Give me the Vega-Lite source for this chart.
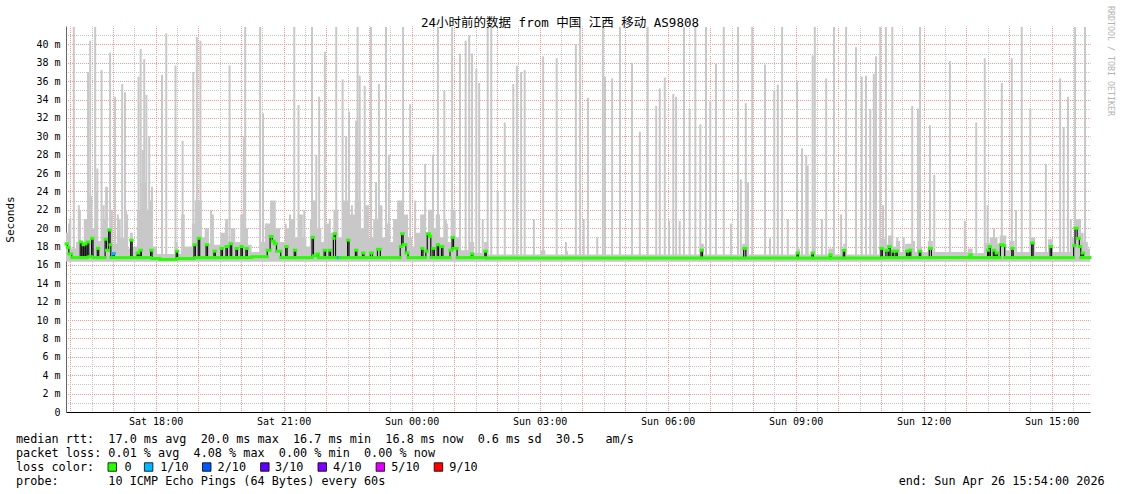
{
"$schema": "https://vega.github.io/schema/vega-lite/v6.json",
"width": 1024,
"height": 386,
"autosize": {"type": "none"},
"padding": {"left": 66, "top": 26, "right": 31, "bottom": 82},
"background": "white",
"config": {"view": {"stroke": null}, "axis": {"labelFont": "DejaVu Sans Mono", "titleFont": "DejaVu Sans Mono"}},
"title": {"text": "24小时前的数据 from 中国 江西 移动 AS9808", "font": "DejaVu Sans Mono, Noto Sans CJK SC", "fontSize": 12.5, "fontWeight": "normal", "color": "#000", "anchor": "middle", "frame": "group", "dx": -18, "dy": 33, "offset": 0, "baseline": "alphabetic"},
"datasets": {
"median": [
{"t":954,"m":18.3},{"t":956,"m":17.9},{"t":958,"m":17.2},{"t":962,"m":16.8},{"t":974,"m":18.5},{"t":976,"m":16.8},{"t":978,"m":18.2},{"t":979,"m":16.8},{"t":981,"m":18.3},{"t":982,"m":16.8},{"t":984,"m":18.5},{"t":986,"m":16.9},{"t":990,"m":18.9},{"t":992,"m":16.8},{"t":998,"m":17.8},{"t":1000,"m":16.8},{"t":1009,"m":18.8},{"t":1011,"m":17.6},{"t":1014,"m":19.8},{"t":1016,"m":18.2},{"t":1017,"m":16.8},{"t":1020,"m":17.25,"l":1},{"t":1022,"m":16.8},{"t":1045,"m":18.7},{"t":1047,"m":16.8},{"t":1054,"m":17.3},{"t":1056,"m":16.8},{"t":1058,"m":17.6},{"t":1060,"m":16.8},{"t":1073,"m":17.6},{"t":1075,"m":16.7},{"t":1086,"m":16.6},{"t":1109,"m":17.5},{"t":1111,"m":16.7},{"t":1134,"m":18.2},{"t":1136,"m":16.8},{"t":1140,"m":18.9},{"t":1142,"m":16.8},{"t":1151,"m":18.2},{"t":1153,"m":16.8},{"t":1162,"m":17.5},{"t":1164,"m":16.8},{"t":1172,"m":17.8},{"t":1174,"m":16.8},{"t":1179,"m":18.0},{"t":1181,"m":16.8},{"t":1185,"m":18.3},{"t":1187,"m":16.8},{"t":1193,"m":17.8},{"t":1195,"m":16.8},{"t":1200,"m":18.0},{"t":1202,"m":16.8},{"t":1207,"m":17.8},{"t":1209,"m":16.8},{"t":1215,"m":16.9},{"t":1237,"m":17.6},{"t":1241,"m":19.1},{"t":1244,"m":18.6},{"t":1247,"m":18.3},{"t":1250,"m":17.5},{"t":1256,"m":16.8},{"t":1263,"m":18.0},{"t":1265,"m":16.8},{"t":1275,"m":17.6},{"t":1277,"m":16.8},{"t":1300,"m":19.0},{"t":1302,"m":17.0},{"t":1307,"m":17.2},{"t":1309,"m":16.8},{"t":1317,"m":17.6},{"t":1319,"m":16.8},{"t":1324,"m":17.6},{"t":1326,"m":16.8},{"t":1330,"m":18.9},{"t":1331,"m":19.4},{"t":1333,"m":16.8},{"t":1337,"m":16.8,"l":1},{"t":1339,"m":16.8},{"t":1350,"m":18.7},{"t":1352,"m":16.8},{"t":1361,"m":17.6},{"t":1363,"m":16.8},{"t":1371,"m":17.3},{"t":1373,"m":16.8},{"t":1382,"m":17.3},{"t":1385,"m":16.8},{"t":1392,"m":17.7},{"t":1396,"m":16.8},{"t":1424,"m":18.0},{"t":1426,"m":19.4},{"t":1428,"m":18.2},{"t":1432,"m":17.3},{"t":1435,"m":16.8},{"t":1454,"m":17.8},{"t":1456,"m":16.8},{"t":1460,"m":17.5},{"t":1462,"m":19.4},{"t":1465,"m":19.1},{"t":1467,"m":16.8},{"t":1470,"m":17.8},{"t":1472,"m":16.8},{"t":1476,"m":18.2},{"t":1478,"m":16.8},{"t":1482,"m":18.0},{"t":1484,"m":16.8},{"t":1494,"m":17.6},{"t":1497,"m":19.0},{"t":1499,"m":17.8},{"t":1504,"m":16.8},{"t":1524,"m":17.2},{"t":1526,"m":16.8},{"t":1543,"m":17.5},{"t":1545,"m":16.75},{"t":1847,"m":17.6},{"t":1849,"m":16.75},{"t":1907,"m":17.8},{"t":1910,"m":16.75},{"t":1982,"m":17.3},{"t":1984,"m":16.75},{"t":2003,"m":17.3},{"t":2005,"m":16.75},{"t":2028,"m":17.1},{"t":2030,"m":16.75},{"t":2047,"m":17.6},{"t":2049,"m":16.75},{"t":2100,"m":17.8},{"t":2102,"m":16.8},{"t":2107,"m":17.6},{"t":2110,"m":16.8},{"t":2111,"m":18.0},{"t":2113,"m":16.8},{"t":2116,"m":17.5},{"t":2118,"m":16.8},{"t":2121,"m":17.5},{"t":2123,"m":16.8},{"t":2136,"m":17.5},{"t":2138,"m":16.8},{"t":2140,"m":17.6},{"t":2142,"m":16.8},{"t":2154,"m":17.5},{"t":2156,"m":16.8},{"t":2168,"m":17.8},{"t":2171,"m":16.8},{"t":2225,"m":17.1},{"t":2227,"m":16.8},{"t":2250,"m":17.6},{"t":2251,"m":16.8},{"t":2252,"m":18.0},{"t":2254,"m":16.8},{"t":2258,"m":17.6},{"t":2260,"m":16.8},{"t":2262,"m":17.3},{"t":2264,"m":16.8},{"t":2268,"m":18.2},{"t":2271,"m":18.1},{"t":2274,"m":16.8},{"t":2284,"m":17.8},{"t":2286,"m":16.8},{"t":2312,"m":18.4},{"t":2314,"m":16.8},{"t":2338,"m":18.0},{"t":2340,"m":16.8},{"t":2371,"m":18.1},{"t":2373,"m":20.0},{"t":2376,"m":18.9},{"t":2379,"m":18.0},{"t":2381,"m":16.8},{"t":2383,"m":17.3},{"t":2385,"m":16.8},{"t":2394,"m":16.9}
],
"spikes": [
{"t":960,"hi":21.0},{"t":965,"hi":41.9},{"t":972,"hi":22.5},{"t":985,"hi":37.0},{"t":988,"hi":40.4},{"t":995,"hi":41.9},{"t":998,"hi":26.5},{"t":1004,"hi":37.2},{"t":1007,"hi":22.5},{"t":1016,"hi":39.1},{"t":1023,"hi":34.3},{"t":1027,"hi":21.5},{"t":1033,"hi":35.7},{"t":1037,"hi":34.8},{"t":1040,"hi":21.5},{"t":1056,"hi":36.5},{"t":1059,"hi":39.5},{"t":1062,"hi":28.5},{"t":1064,"hi":38.4},{"t":1067,"hi":34.5},{"t":1071,"hi":30.0},{"t":1075,"hi":24.5},{"t":1089,"hi":36.7},{"t":1095,"hi":41.2},{"t":1108,"hi":37.7},{"t":1118,"hi":29.5},{"t":1133,"hi":37.0},{"t":1138,"hi":40.8},{"t":1143,"hi":40.4},{"t":1158,"hi":22.0},{"t":1179,"hi":20.5},{"t":1184,"hi":37.7},{"t":1204,"hi":30.0},{"t":1206,"hi":41.9},{"t":1227,"hi":41.9},{"t":1231,"hi":32.5},{"t":1235,"hi":20.5},{"t":1263,"hi":20.5},{"t":1269,"hi":21.5},{"t":1275,"hi":41.9},{"t":1281,"hi":33.4},{"t":1289,"hi":22.0},{"t":1300,"hi":41.9},{"t":1306,"hi":28.0},{"t":1310,"hi":34.3},{"t":1318,"hi":39.2},{"t":1325,"hi":21.0},{"t":1334,"hi":41.9},{"t":1343,"hi":36.2},{"t":1348,"hi":30.0},{"t":1352,"hi":32.7},{"t":1356,"hi":22.5},{"t":1362,"hi":31.7},{"t":1364,"hi":41.9},{"t":1367,"hi":36.6},{"t":1374,"hi":35.5},{"t":1383,"hi":41.9},{"t":1390,"hi":25.0},{"t":1394,"hi":35.7},
{"t":1404,"hi":41.9},{"t":1408,"hi":28},{"t":1421,"hi":23},{"t":1428,"hi":41.9},{"t":1438,"hi":33.5},{"t":1445,"hi":23},{"t":1459,"hi":27},{"t":1470,"hi":28},{"t":1477,"hi":41.9},{"t":1486,"hi":35},{"t":1488,"hi":21},{"t":1497,"hi":41.9},{"t":1508,"hi":39},{"t":1516,"hi":40.4},{"t":1521,"hi":41},{"t":1525,"hi":39},{"t":1531,"hi":37.3},{"t":1535,"hi":35.8},{"t":1540,"hi":21},{"t":1547,"hi":41.9},{"t":1552,"hi":41.9},{"t":1561,"hi":24},{"t":1571,"hi":31.5},{"t":1583,"hi":35.7},{"t":1588,"hi":37.7},{"t":1594,"hi":37},{"t":1599,"hi":37.2},{"t":1612,"hi":21},{"t":1625,"hi":38.7},{"t":1644,"hi":38.5},{"t":1657,"hi":18.5},{"t":1671,"hi":40},{"t":1677,"hi":41.9},{"t":1682,"hi":21},{"t":1688,"hi":34.2},{"t":1701,"hi":19},{"t":1709,"hi":41.9},{"t":1712,"hi":36.5},{"t":1722,"hi":36.3},{"t":1733,"hi":41.9},{"t":1750,"hi":38},{"t":1761,"hi":30.5},{"t":1772,"hi":41.9},{"t":1784,"hi":33.3},{"t":1789,"hi":35.2},{"t":1796,"hi":36.4},{"t":1802,"hi":20.8},{"t":1808,"hi":34.6},{"t":1812,"hi":34.3},{"t":1817,"hi":20.8},{"t":1823,"hi":41.9},{"t":1831,"hi":33},{"t":1839,"hi":41.9},{"t":1846,"hi":31.3},{"t":1854,"hi":41.9},{"t":1860,"hi":33.8},{"t":1868,"hi":37.9},{"t":1879,"hi":41.9},{"t":1889,"hi":20.5},{"t":1899,"hi":41.9},{"t":1903,"hi":25.3},{"t":1910,"hi":33.6},{"t":1913,"hi":25},
{"t":1919,"hi":41.9},{"t":1937,"hi":37.8},{"t":1944,"hi":18.9},{"t":1950,"hi":35},{"t":1955,"hi":35.6},{"t":1961,"hi":41.9},{"t":1969,"hi":21},{"t":1982,"hi":36},{"t":1989,"hi":28.7},{"t":1995,"hi":28},{"t":1997,"hi":26.8},{"t":2004,"hi":38.8},{"t":2007,"hi":41.9},{"t":2017,"hi":21},{"t":2023,"hi":36.3},{"t":2034,"hi":41.9},{"t":2044,"hi":21.5},{"t":2051,"hi":41.9},{"t":2065,"hi":39.7},{"t":2073,"hi":36.5},{"t":2079,"hi":36.6},{"t":2085,"hi":33},{"t":2090,"hi":36.8},{"t":2093,"hi":38.7},{"t":2099,"hi":41.9},{"t":2103,"hi":22.5},{"t":2107,"hi":41.9},{"t":2116,"hi":41.9},{"t":2123,"hi":19},{"t":2132,"hi":19},{"t":2144,"hi":33.3},{"t":2152,"hi":33.0},{"t":2155,"hi":41.9},{"t":2169,"hi":31.2},{"t":2175,"hi":25.8},{"t":2197,"hi":38.2},{"t":2218,"hi":20.8},{"t":2234,"hi":31.5},{"t":2246,"hi":38.5},{"t":2250,"hi":22.5},{"t":2259,"hi":20},{"t":2270,"hi":35.8},{"t":2284,"hi":38.5},{"t":2290,"hi":22},{"t":2298,"hi":41.9},{"t":2310,"hi":33},{"t":2332,"hi":27},{"t":2352,"hi":36.3},{"t":2357,"hi":31},{"t":2363,"hi":34.3},{"t":2367,"hi":21},{"t":2373,"hi":41.9},{"t":2380,"hi":21},{"t":2387,"hi":41.9}
],
"smoke": [
{"t":954,"hi":19.5},{"t":957,"hi":20.5},{"t":961,"hi":17.8},{"t":968,"hi":18.5},{"t":972,"hi":22},{"t":975,"hi":18.5},{"t":979,"hi":21},{"t":984,"hi":23.5},{"t":991,"hi":20},{"t":996,"hi":24},{"t":999,"hi":18.6},{"t":1005,"hi":21},{"t":1009,"hi":24.5},{"t":1013,"hi":20},{"t":1016,"hi":22},{"t":1020,"hi":18.3},{"t":1027,"hi":21},{"t":1031,"hi":19},{"t":1036,"hi":22},{"t":1040,"hi":17.8},{"t":1044,"hi":19.5},{"t":1048,"hi":18.0},{"t":1054,"hi":22},{"t":1060,"hi":25},{"t":1067,"hi":22},{"t":1072,"hi":23},{"t":1076,"hi":18.0},{"t":1082,"hi":17.2},{"t":1107,"hi":18.5},{"t":1111,"hi":17.2},{"t":1116,"hi":21.5},{"t":1121,"hi":18.0},{"t":1131,"hi":20.5},{"t":1135,"hi":23},{"t":1145,"hi":19},{"t":1149,"hi":20},{"t":1155,"hi":18.3},{"t":1159,"hi":21.5},{"t":1162,"hi":18.2},{"t":1171,"hi":19.5},{"t":1178,"hi":21},{"t":1182,"hi":18.6},{"t":1186,"hi":20},{"t":1192,"hi":18.5},{"t":1199,"hi":21.5},{"t":1203,"hi":20.0},{"t":1210,"hi":18.2},{"t":1215,"hi":17.4},{"t":1227,"hi":18.5},{"t":1235,"hi":20.5},{"t":1241,"hi":23},{"t":1249,"hi":20},{"t":1255,"hi":18.5},{"t":1262,"hi":20},{"t":1269,"hi":21},{"t":1275,"hi":19},{"t":1280,"hi":21.5},{"t":1287,"hi":19},{"t":1292,"hi":18.0},{"t":1297,"hi":21},{"t":1301,"hi":23},{"t":1307,"hi":20},{"t":1313,"hi":18.5},{"t":1318,"hi":20.5},{"t":1325,"hi":19.5},{"t":1330,"hi":22},{"t":1337,"hi":19},{"t":1342,"hi":23},{"t":1352,"hi":21.5},{"t":1360,"hi":23},{"t":1369,"hi":20},{"t":1374,"hi":22.5},{"t":1380,"hi":19},{"t":1386,"hi":21},{"t":1393,"hi":22.5},{"t":1399,"hi":19},{"t":1405,"hi":20.5},{"t":1410,"hi":18.5},{"t":1414,"hi":21},{"t":1421,"hi":23},{"t":1429,"hi":21.5},{"t":1435,"hi":19},{"t":1441,"hi":18},{"t":1446,"hi":19.5},{"t":1452,"hi":21.5},{"t":1459,"hi":19.5},{"t":1463,"hi":22},{"t":1469,"hi":20},{"t":1474,"hi":21.5},{"t":1480,"hi":19},{"t":1486,"hi":20.5},{"t":1491,"hi":18.5},{"t":1495,"hi":22},{"t":1502,"hi":19},{"t":1508,"hi":17.6},{"t":1522,"hi":18.5},{"t":1528,"hi":17.3},{"t":1542,"hi":18.5},{"t":1547,"hi":17.15},{"t":1621,"hi":17.6},{"t":1628,"hi":17.15},{"t":1656,"hi":17.5},{"t":1660,"hi":17.15},{"t":1846,"hi":18.3},{"t":1851,"hi":17.15},{"t":1905,"hi":18.3},{"t":1912,"hi":17.15},{"t":1982,"hi":17.8},{"t":1986,"hi":17.15},{"t":2003,"hi":18.0},{"t":2007,"hi":17.15},{"t":2026,"hi":17.8},{"t":2033,"hi":17.15},{"t":2047,"hi":18.3},{"t":2051,"hi":17.15},{"t":2099,"hi":18.8},{"t":2107,"hi":18.2},{"t":2110,"hi":19.2},{"t":2116,"hi":18.0},{"t":2121,"hi":18.6},{"t":2127,"hi":17.4},{"t":2134,"hi":18.3},{"t":2144,"hi":18.6},{"t":2148,"hi":17.4},{"t":2154,"hi":18.0},{"t":2158,"hi":17.4},{"t":2166,"hi":18.6},{"t":2173,"hi":17.4},{"t":2222,"hi":17.8},{"t":2229,"hi":17.3},{"t":2246,"hi":18.4},{"t":2253,"hi":19},{"t":2264,"hi":18.3},{"t":2267,"hi":19.2},{"t":2276,"hi":17.6},{"t":2281,"hi":18.6},{"t":2288,"hi":17.4},{"t":2310,"hi":19},{"t":2317,"hi":17.4},{"t":2335,"hi":18.8},{"t":2342,"hi":17.4},{"t":2368,"hi":19},{"t":2373,"hi":21},{"t":2380,"hi":19.5},{"t":2385,"hi":18.5},{"t":2391,"hi":17.8},{"t":2394,"hi":17.8}
],
"legend": [
{"row":0,"col":0,"text":"median rtt:\u00a0\u00a017.0 ms avg\u00a0\u00a020.0 ms max\u00a0\u00a016.7 ms min\u00a0\u00a016.8 ms now\u00a0\u00a00.6 ms sd\u00a0\u00a030.5\u00a0\u00a0\u00a0am/s"},
{"row":1,"col":0,"text":"packet loss: 0.01 % avg\u00a0\u00a04.08 % max\u00a0\u00a00.00 % min\u00a0\u00a00.00 % now"},
{"row":2,"col":0,"text":"loss color:"},
{"row":2,"col":15.5,"text":"0"},
{"row":2,"col":20.6,"text":"1/10"},
{"row":2,"col":28.8,"text":"2/10"},
{"row":2,"col":37.0,"text":"3/10"},
{"row":2,"col":45.3,"text":"4/10"},
{"row":2,"col":53.6,"text":"5/10"},
{"row":2,"col":61.9,"text":"9/10"},
{"row":3,"col":0,"text":"probe:\u00a0\u00a0\u00a0\u00a0\u00a0\u00a0\u00a010 ICMP Echo Pings (64 Bytes) every 60s"},
{"row":3,"col":126.1,"text":"end: Sun Apr 26 15:54:00 2026"}
],
"boxes": [
{"row":2,"col":13.75,"k":"0"},{"row":2,"col":18.95,"k":"1/10"},{"row":2,"col":27.25,"k":"2/10"},{"row":2,"col":35.55,"k":"3/10"},{"row":2,"col":43.75,"k":"4/10"},{"row":2,"col":52.05,"k":"5/10"},{"row":2,"col":60.35,"k":"9/10"}
],
"credit": [{"row":-27,"col":156.3,"text":"RRDTOOL / TOBI OETIKER"}]
},
"encoding": {"x": {"field": "t", "type": "quantitative", "scale": {"domain": [954, 2394], "nice": false, "zero": false}, "axis": null}},
"layer": [
 {"data": {"name": "smoke"}, "mark": {"type": "area", "interpolate": "step-after", "color": "#c8c8c8"},
  "encoding": {
   "x": {"field": "t", "type": "quantitative", "scale": {"domain": [954, 2394], "nice": false, "zero": false},
    "axis": {"values": [960,990,1020,1050,1080,1110,1140,1170,1200,1230,1260,1290,1320,1350,1380,1410,1440,1470,1500,1530,1560,1590,1620,1650,1680,1710,1740,1770,1800,1830,1860,1890,1920,1950,1980,2010,2040,2070,2100,2130,2160,2190,2220,2250,2280,2310,2340,2370],
     "labelExpr": "datum.value % 180 == 0 ? timeFormat(datetime(2026, 3, 25, 0, datum.value), '%a %H:%M') : ''",
     "grid": true, "gridColor": {"condition": {"test": "datum.value % 60 == 0", "value": "#f09898"}, "value": "#c4c4c4"}, "gridDash": [1, 1], "gridDashOffset": 0.5, "gridWidth": 1,
     "ticks": false, "domainColor": "#000", "domainWidth": 1, "labelFontSize": 10, "labelColor": "#000", "labelPadding": 4, "labelOverlap": false, "labelFlush": false, "title": null, "orient": "bottom"}},
   "y": {"field": "hi", "type": "quantitative", "scale": {"domain": [0, 42], "nice": false, "zero": false},
    "axis": {"values": [0,1,2,3,4,5,6,7,8,9,10,11,12,13,14,15,16,17,18,19,20,21,22,23,24,25,26,27,28,29,30,31,32,33,34,35,36,37,38,39,40,41],
     "labelExpr": "datum.value % 2 == 0 ? (datum.value == 0 ? '0' : datum.value + ' m') : ''",
     "grid": true, "gridColor": {"condition": {"test": "datum.value % 2 == 0", "value": "#f09898"}, "value": "#c4c4c4"}, "gridDash": [1, 1], "gridDashOffset": 0.5, "gridWidth": 1,
     "ticks": false, "domainColor": "#666", "labelFontSize": 10, "labelColor": "#000", "labelPadding": 6, "labelOverlap": false, "labelFlush": false, "orient": "left",
     "title": "Seconds", "titleFontSize": 11, "titleFontWeight": "normal", "titleColor": "#000", "titleX": -56, "titleY": 193, "titleAngle": -90, "titleAlign": "center", "titleBaseline": "middle"}},
   "y2": {"datum": 16.35}}},
 {"data": {"name": "spikes"}, "mark": {"type": "rule", "color": "#c8c8c8", "strokeWidth": 2},
  "encoding": {"y": {"field": "hi", "type": "quantitative", "scale": {"domain": [0, 42], "nice": false, "zero": false}, "axis": null}, "y2": {"datum": 16.5}}},
 {"data": {"name": "median"}, "mark": {"type": "line", "interpolate": "step-after", "color": "#111", "strokeWidth": 1.2},
  "encoding": {"y": {"field": "m", "type": "quantitative", "scale": {"domain": [0, 42], "nice": false, "zero": false}, "axis": null}}},
 {"data": {"name": "median"},
  "transform": [{"window": [{"op": "lead", "field": "t", "as": "t2"}], "sort": [{"field": "t"}]}, {"filter": "datum.t2 != null"}],
  "mark": {"type": "rule", "strokeWidth": 3, "strokeCap": "square"},
  "encoding": {"x2": {"field": "t2"}, "y": {"field": "m", "type": "quantitative", "scale": {"domain": [0, 42], "nice": false, "zero": false}, "axis": null},
   "color": {"condition": {"test": "datum.l == 1", "value": "#00b8ff"}, "value": "#26ff00"}}},
 {"data": {"values": [{}]}, "mark": {"type": "rule", "color": "#666"},
  "encoding": {"x": {"datum": 954, "type": "quantitative", "scale": {"domain": [954, 2394], "nice": false, "zero": false}, "axis": null}, "y": {"datum": -0.3, "type": "quantitative", "scale": {"domain": [0, 42], "nice": false, "zero": false}, "axis": null}, "y2": {"datum": 42.45}}},
 {"data": {"values": [{}]}, "mark": {"type": "rule", "color": "#000"},
  "encoding": {"x": {"datum": 951, "type": "quantitative", "scale": {"domain": [954, 2394], "nice": false, "zero": false}, "axis": null}, "x2": {"datum": 2399}, "y": {"datum": 0, "type": "quantitative", "scale": {"domain": [0, 42], "nice": false, "zero": false}, "axis": null}}},
 {"data": {"values": [{}]}, "mark": {"type": "point", "shape": "triangle-up", "filled": true, "size": 22, "color": "#8b1a1a", "opacity": 1},
  "encoding": {"x": {"datum": 954, "type": "quantitative", "scale": {"domain": [954, 2394], "nice": false, "zero": false}, "axis": null}, "y": {"datum": 42.4, "type": "quantitative", "scale": {"domain": [0, 42], "nice": false, "zero": false}, "axis": null}}},
 {"data": {"values": [{}]}, "mark": {"type": "point", "shape": "triangle-right", "filled": true, "size": 22, "color": "#8b1a1a", "opacity": 1},
  "encoding": {"x": {"datum": 2401, "type": "quantitative", "scale": {"domain": [954, 2394], "nice": false, "zero": false}, "axis": null}, "y": {"datum": 0, "type": "quantitative", "scale": {"domain": [0, 42], "nice": false, "zero": false}, "axis": null}}},
 {"data": {"name": "legend"}, "mark": {"type": "text", "align": "left", "baseline": "middle", "font": "DejaVu Sans Mono", "fontSize": 11.8, "color": "#000"},
  "encoding": {
   "x": {"field": "col", "type": "quantitative", "scale": {"domain": [7.143, 153.43], "nice": false, "zero": false}, "axis": null},
   "y": {"field": "row", "type": "quantitative", "scale": {"domain": [-29.5, -1.93], "nice": false, "zero": false, "reverse": true}, "axis": null},
   "text": {"field": "text"}}},
 {"data": {"name": "boxes"}, "mark": {"type": "point", "shape": "square", "filled": true, "size": 72, "stroke": "#000", "strokeWidth": 0.8, "opacity": 1},
  "encoding": {
   "x": {"field": "col", "type": "quantitative", "scale": {"domain": [7.143, 153.43], "nice": false, "zero": false}, "axis": null},
   "y": {"field": "row", "type": "quantitative", "scale": {"domain": [-29.5, -1.93], "nice": false, "zero": false, "reverse": true}, "axis": null},
   "color": {"field": "k", "type": "nominal", "scale": {"domain": ["0","1/10","2/10","3/10","4/10","5/10","9/10"], "range": ["#26ff00","#00b8ff","#0059ff","#5e00ff","#7e00ff","#dd00ff","#ff0000"]}, "legend": null}}},
 {"data": {"name": "credit"}, "mark": {"type": "text", "angle": 90, "align": "center", "baseline": "middle", "font": "DejaVu Sans Mono", "fontSize": 8.3, "color": "#b4b4b4"},
  "encoding": {
   "x": {"field": "col", "type": "quantitative", "scale": {"domain": [7.143, 153.43], "nice": false, "zero": false}, "axis": null},
   "y": {"field": "row", "type": "quantitative", "scale": {"domain": [-29.5, -1.93], "nice": false, "zero": false, "reverse": true}, "axis": null},
   "text": {"field": "text"}}}
],
"resolve": {"scale": {"x": "independent", "y": "independent", "color": "shared"}}
}
